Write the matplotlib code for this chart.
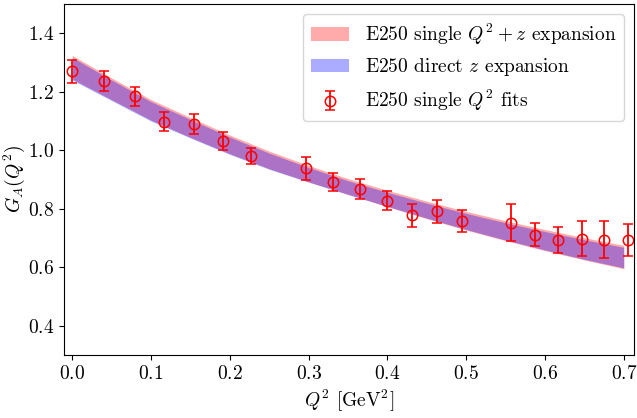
import matplotlib
matplotlib.use("Agg")
import matplotlib.pyplot as plt

plt.rcParams["font.family"] = "serif"
plt.rcParams["font.serif"] = ["cmr10"]
plt.rcParams["mathtext.fontset"] = "cm"
plt.rcParams["axes.formatter.use_mathtext"] = True

# single-Q^2 fit results
q2_pts = [0.000, 0.040, 0.079, 0.117, 0.155, 0.191, 0.227, 0.297, 0.331, 0.365,
          0.399, 0.431, 0.463, 0.495, 0.557, 0.587, 0.617, 0.647, 0.675, 0.705]
ga_pts = [1.270, 1.236, 1.184, 1.098, 1.089, 1.032, 0.981, 0.939, 0.891, 0.868,
          0.828, 0.777, 0.791, 0.757, 0.753, 0.711, 0.692, 0.697, 0.694, 0.693]
ga_err = [0.039, 0.035, 0.033, 0.032, 0.035, 0.030, 0.028, 0.039, 0.030, 0.034,
          0.032, 0.040, 0.040, 0.038, 0.063, 0.040, 0.044, 0.060, 0.064, 0.055]

# z-expansion bands
q2_band = [0.00, 0.05, 0.10, 0.15, 0.20, 0.25, 0.30, 0.35,
           0.40, 0.45, 0.50, 0.55, 0.60, 0.65, 0.70]
single_hi = [1.324, 1.247, 1.173, 1.112, 1.052, 0.997, 0.948, 0.903,
             0.863, 0.826, 0.791, 0.759, 0.729, 0.701, 0.675]
single_lo = [1.244, 1.173, 1.103, 1.044, 0.988, 0.937, 0.892, 0.849,
             0.807, 0.766, 0.727, 0.691, 0.657, 0.625, 0.595]
direct_hi = [1.317, 1.240, 1.166, 1.105, 1.045, 0.990, 0.941, 0.896,
             0.856, 0.819, 0.784, 0.752, 0.722, 0.694, 0.668]
direct_lo = [1.240, 1.170, 1.100, 1.042, 0.986, 0.935, 0.891, 0.849,
             0.808, 0.768, 0.729, 0.693, 0.659, 0.627, 0.598]

x_ticks = [0.0, 0.1, 0.2, 0.3, 0.4, 0.5, 0.6, 0.7]
y_ticks = [0.4, 0.6, 0.8, 1.0, 1.2, 1.4]

fig = plt.figure(figsize=(6.37, 4.18), dpi=100)
ax = fig.add_axes([0.1005, 0.1507, 0.8948, 0.8397])

ax.fill_between(q2_band, single_lo, single_hi, color="red", alpha=0.33, lw=0,
                label=r"E250 single $Q^2 + z$ expansion")
ax.fill_between(q2_band, direct_lo, direct_hi, color="blue", alpha=0.33, lw=0,
                label=r"E250 direct $z$ expansion")
ax.errorbar(q2_pts, ga_pts, yerr=ga_err, fmt="o", mfc="none", mec="red",
            ecolor="red", color="red", ms=7.5, mew=1.1, elinewidth=1.3,
            capsize=3.5, capthick=1.3, label=r"E250 single $Q^2$ fits")

ax.set_xlim(-0.0105, 0.713)
ax.set_ylim(0.3, 1.5)
ax.set_xticks(x_ticks)
ax.set_yticks(y_ticks)
ax.tick_params(labelsize=14)
ax.set_xlabel(r"$Q^2$ [GeV$^2$]", fontsize=14)
ax.set_ylabel(r"$G_A(Q^2)$", fontsize=14, labelpad=1)
ax.legend(loc="upper right", fontsize=14)

fig.savefig("out.png", dpi=100)
